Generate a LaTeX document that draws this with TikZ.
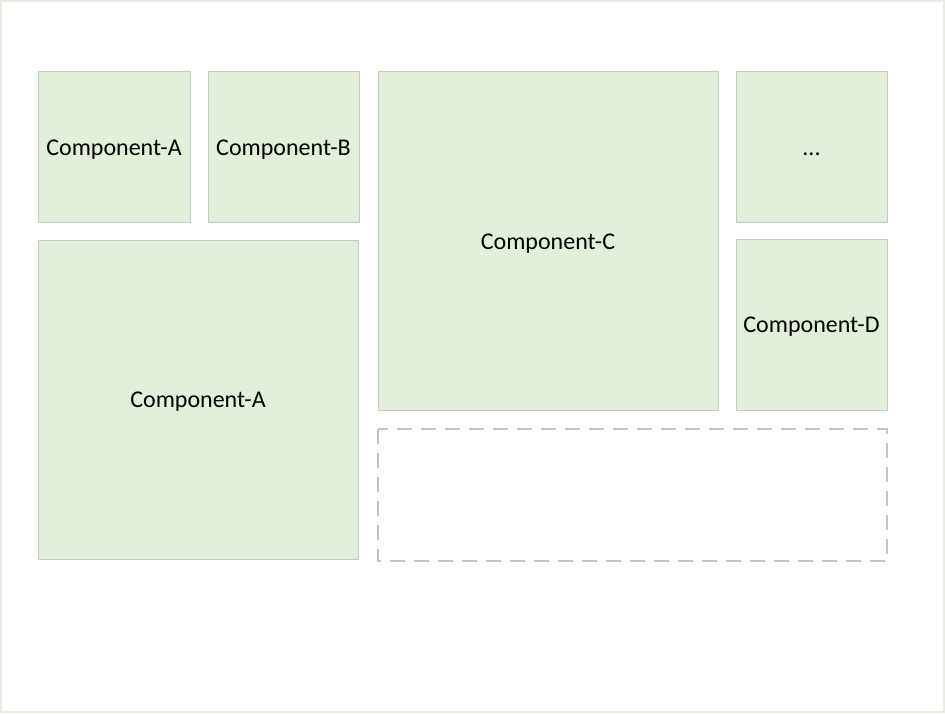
\documentclass[tikz,border=0pt]{standalone}
\usepackage{fontspec}
\setmainfont{Carlito}
\definecolor{boxfill}{HTML}{E2EFDA}
\definecolor{boxline}{HTML}{C9C9C9}
\definecolor{dashline}{HTML}{C4C4C4}
\definecolor{frameline}{HTML}{E6EEDF}
\begin{document}
\begin{tikzpicture}[x=1pt,y=-1pt,
  comp/.style={draw=boxline,fill=boxfill,line width=1pt},
  lbl/.style={font=\fontsize{24}{28}\selectfont,inner sep=0pt,anchor=base}]
\useasboundingbox (0,0) rectangle (945,713);
\draw[frameline,line width=1.5pt] (1,1) rectangle (944,712);
\draw[comp] (38,71) rectangle (190,222);
\draw[comp] (208,71) rectangle (359,222);
\draw[comp] (378,71) rectangle (718,410);
\draw[comp] (736,71) rectangle (887,222);
\draw[comp] (736,239) rectangle (887,410);
\draw[comp] (38,240) rectangle (358,559);
\node[lbl] (a1) at (114,155) {Component-A};
\node[lbl] (b) at (283.5,155) {Component-B};
\node[lbl] (c) at (548,249) {Component-C};
\node[lbl] (dots) at (811.5,155) {...};
\node[lbl] (d) at (811.5,332) {Component-D};
\node[lbl] (a2) at (198,407) {Component-A};
\draw[dashline,line width=2pt,dash pattern=on 15pt off 9pt] (378,429) rectangle (887,561);
\end{tikzpicture}
\end{document}
